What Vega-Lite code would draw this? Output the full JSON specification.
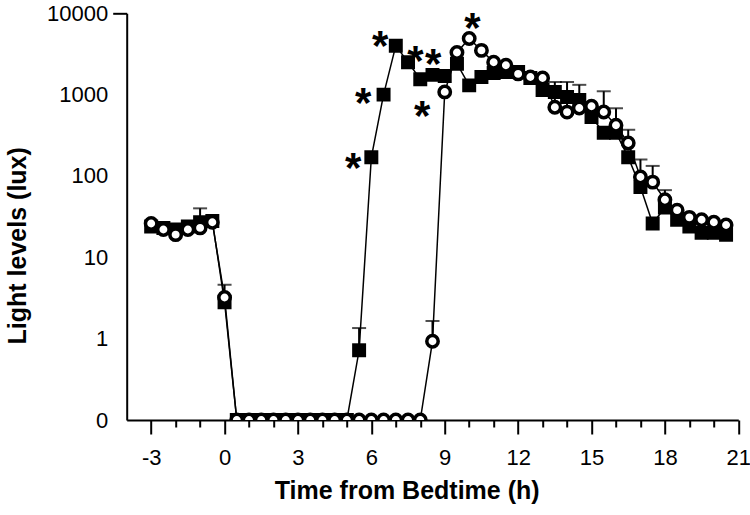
{
  "$schema": "https://vega.github.io/schema/vega-lite/v6.json",
  "width": 611.6,
  "height": 406.7,
  "autosize": {"type": "none"},
  "padding": {"left": 126.7, "top": 13.3, "right": 11.7, "bottom": 95},
  "background": "white",
  "config": {
    "view": {"stroke": null},
    "font": "Liberation Sans",
    "axis": {
      "domainColor": "black", "tickColor": "black", "labelColor": "black", "titleColor": "black",
      "domainWidth": 2, "tickWidth": 2, "grid": false
    }
  },
  "datasets": {
    "light": [
      {"t": -3, "lux": 24, "g": "filled"},
      {"t": -2.5, "lux": 23, "g": "filled"},
      {"t": -2, "lux": 22, "g": "filled"},
      {"t": -1.5, "lux": 24, "g": "filled"},
      {"t": -1, "lux": 27, "err": 40, "g": "filled"},
      {"t": -0.5, "lux": 28, "g": "filled"},
      {"t": 0, "lux": 2.8, "err": 4.6, "g": "filled"},
      {"t": 0.5, "lux": 0, "g": "filled"},
      {"t": 1, "lux": 0, "g": "filled"},
      {"t": 1.5, "lux": 0, "g": "filled"},
      {"t": 2, "lux": 0, "g": "filled"},
      {"t": 2.5, "lux": 0, "g": "filled"},
      {"t": 3, "lux": 0, "g": "filled"},
      {"t": 3.5, "lux": 0, "g": "filled"},
      {"t": 4, "lux": 0, "g": "filled"},
      {"t": 4.5, "lux": 0, "g": "filled"},
      {"t": 5, "lux": 0, "g": "filled"},
      {"t": 5.5, "lux": 0.72, "err": 1.35, "g": "filled"},
      {"t": 6, "lux": 170, "g": "filled"},
      {"t": 6.5, "lux": 1000, "g": "filled"},
      {"t": 7, "lux": 4000, "g": "filled"},
      {"t": 7.5, "lux": 2500, "g": "filled"},
      {"t": 8, "lux": 1550, "g": "filled"},
      {"t": 8.5, "lux": 1750, "g": "filled"},
      {"t": 9, "lux": 1700, "g": "filled"},
      {"t": 9.5, "lux": 2400, "g": "filled"},
      {"t": 10, "lux": 1300, "g": "filled"},
      {"t": 10.5, "lux": 1650, "g": "filled"},
      {"t": 11, "lux": 1850, "g": "filled"},
      {"t": 11.5, "lux": 1900, "g": "filled"},
      {"t": 12, "lux": 1900, "g": "filled"},
      {"t": 12.5, "lux": 1600, "g": "filled"},
      {"t": 13, "lux": 1140, "g": "filled"},
      {"t": 13.5, "lux": 1080, "g": "filled"},
      {"t": 14, "lux": 935, "g": "filled"},
      {"t": 14.5, "lux": 860, "g": "filled"},
      {"t": 15, "lux": 530, "g": "filled"},
      {"t": 15.5, "lux": 340, "g": "filled"},
      {"t": 16, "lux": 340, "g": "filled"},
      {"t": 16.5, "lux": 170, "g": "filled"},
      {"t": 17, "lux": 73, "g": "filled"},
      {"t": 17.5, "lux": 26, "g": "filled"},
      {"t": 18, "lux": 41, "g": "filled"},
      {"t": 18.5, "lux": 29, "g": "filled"},
      {"t": 19, "lux": 24, "g": "filled"},
      {"t": 19.5, "lux": 20, "g": "filled"},
      {"t": 20, "lux": 20, "g": "filled"},
      {"t": 20.5, "lux": 19, "g": "filled"},
      {"t": -3, "lux": 26, "g": "open"},
      {"t": -2.5, "lux": 22, "g": "open"},
      {"t": -2, "lux": 19, "g": "open"},
      {"t": -1.5, "lux": 22, "g": "open"},
      {"t": -1, "lux": 23, "g": "open"},
      {"t": -0.5, "lux": 27, "g": "open"},
      {"t": 0, "lux": 3.2, "g": "open"},
      {"t": 0.5, "lux": 0, "g": "open"},
      {"t": 1, "lux": 0, "g": "open"},
      {"t": 1.5, "lux": 0, "g": "open"},
      {"t": 2, "lux": 0, "g": "open"},
      {"t": 2.5, "lux": 0, "g": "open"},
      {"t": 3, "lux": 0, "g": "open"},
      {"t": 3.5, "lux": 0, "g": "open"},
      {"t": 4, "lux": 0, "g": "open"},
      {"t": 4.5, "lux": 0, "g": "open"},
      {"t": 5, "lux": 0, "g": "open"},
      {"t": 5.5, "lux": 0, "g": "open"},
      {"t": 6, "lux": 0, "g": "open"},
      {"t": 6.5, "lux": 0, "g": "open"},
      {"t": 7, "lux": 0, "g": "open"},
      {"t": 7.5, "lux": 0, "g": "open"},
      {"t": 8, "lux": 0, "g": "open"},
      {"t": 8.5, "lux": 0.93, "err": 1.65, "g": "open"},
      {"t": 9, "lux": 1080, "g": "open"},
      {"t": 9.5, "lux": 3300, "g": "open"},
      {"t": 10, "lux": 4900, "g": "open"},
      {"t": 10.5, "lux": 3500, "g": "open"},
      {"t": 11, "lux": 2500, "g": "open"},
      {"t": 11.5, "lux": 2300, "g": "open"},
      {"t": 12, "lux": 1800, "g": "open"},
      {"t": 12.5, "lux": 1650, "g": "open"},
      {"t": 13, "lux": 1600, "g": "open"},
      {"t": 13.5, "lux": 700, "err": 1430, "g": "open"},
      {"t": 14, "lux": 610, "err": 1430, "g": "open"},
      {"t": 14.5, "lux": 685, "err": 1320, "g": "open"},
      {"t": 15, "lux": 720, "g": "open"},
      {"t": 15.5, "lux": 611, "err": 1100, "g": "open"},
      {"t": 16, "lux": 420, "err": 680, "g": "open"},
      {"t": 16.5, "lux": 254, "err": 370, "g": "open"},
      {"t": 17, "lux": 97, "err": 160, "g": "open"},
      {"t": 17.5, "lux": 84, "err": 133, "g": "open"},
      {"t": 18, "lux": 51, "err": 67, "g": "open"},
      {"t": 18.5, "lux": 38, "g": "open"},
      {"t": 19, "lux": 31, "g": "open"},
      {"t": 19.5, "lux": 29, "g": "open"},
      {"t": 20, "lux": 27, "g": "open"},
      {"t": 20.5, "lux": 25, "g": "open"}
    ],
    "stars": [
      {"t": 5.26, "lux": 171, "label": "*"},
      {"t": 5.67, "lux": 1077, "label": "*"},
      {"t": 6.36, "lux": 5410, "label": "*"},
      {"t": 7.8, "lux": 3540, "label": "*"},
      {"t": 8.53, "lux": 3250, "label": "*"},
      {"t": 8.08, "lux": 746, "label": "*"},
      {"t": 10.13, "lux": 9010, "label": "*"}
    ]
  },
  "encoding": {
    "x": {
      "field": "t", "type": "quantitative",
      "scale": {"domain": [-4, 21], "nice": false, "zero": false},
      "axis": {
        "title": "Time from Bedtime (h)",
        "values": [-3, -2, -1, 0, 1, 2, 3, 4, 5, 6, 7, 8, 9, 10, 11, 12, 13, 14, 15, 16, 17, 18, 19, 20, 21],
        "labelExpr": "datum.value % 3 == 0 ? '' + datum.value : ''",
        "tickSize": {"condition": {"test": "datum.value % 3 == 0", "value": 14}, "value": 7},
        "labelFontSize": 22, "labelPadding": 13, "labelFlush": false, "labelOverlap": false,
        "titleFontSize": 25, "titleFontWeight": "bold", "titleX": 280, "titlePadding": 10
      }
    },
    "y": {
      "field": "lux", "type": "quantitative",
      "scale": {"type": "log", "domain": [0.1, 10000], "nice": false, "clamp": true},
      "axis": {
        "title": "Light levels (lux)",
        "values": [0.1, 1, 10, 100, 1000, 10000],
        "labelExpr": "datum.value < 0.5 ? '0' : format(datum.value, 'd')",
        "tickSize": 14,
        "tickOpacity": {"condition": {"test": "datum.value > 5000", "value": 1}, "value": 0},
        "labelFontSize": 22, "labelPadding": 5, "labelFlush": false,
        "titleFontSize": 25, "titleFontWeight": "bold", "titleY": 232, "titlePadding": 16
      }
    }
  },
  "layer": [
    {
      "data": {"name": "light"},
      "mark": {"type": "line", "color": "black", "strokeWidth": 1.5, "invalid": "show", "clip": true},
      "encoding": {"detail": {"field": "g"}}
    },
    {
      "data": {"name": "light"},
      "transform": [{"filter": "isValid(datum.err)"}],
      "mark": {"type": "rule", "color": "black", "strokeWidth": 2},
      "encoding": {"y2": {"field": "err"}}
    },
    {
      "data": {"name": "light"},
      "transform": [{"filter": "isValid(datum.err)"}],
      "mark": {"type": "tick", "orient": "horizontal", "color": "black", "size": 14, "thickness": 2},
      "encoding": {"y": {"field": "err", "type": "quantitative", "scale": {"type": "log", "domain": [0.1, 10000], "nice": false, "clamp": true}}}
    },
    {
      "data": {"name": "light"},
      "transform": [{"filter": "datum.g == 'filled'"}],
      "mark": {"type": "point", "shape": "square", "filled": true, "color": "black", "size": 195, "opacity": 1, "invalid": "show", "clip": true}
    },
    {
      "data": {"name": "light"},
      "transform": [{"filter": "datum.g == 'open'"}],
      "mark": {"type": "point", "shape": "circle", "filled": false, "fill": "white", "fillOpacity": 1, "stroke": "black", "strokeWidth": 3.5, "size": 130, "opacity": 1, "invalid": "show", "clip": true}
    },
    {
      "data": {"name": "stars"},
      "mark": {"type": "text", "font": "Liberation Sans", "fontSize": 42, "fontWeight": "bold", "color": "black", "baseline": "middle", "align": "center", "dy": 12},
      "encoding": {"text": {"field": "label"}}
    }
  ]
}
